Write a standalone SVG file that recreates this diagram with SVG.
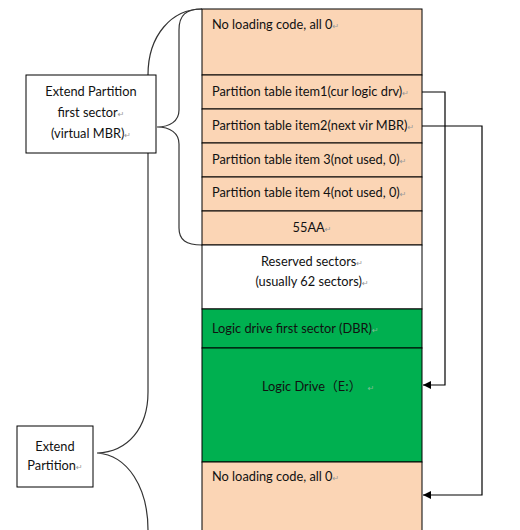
<svg xmlns="http://www.w3.org/2000/svg" width="520" height="530" viewBox="0 0 520 530">
<style>
text{font-family:Lato,"Liberation Sans",sans-serif;font-size:12.8px;fill:#111}
.m{font-family:"DejaVu Sans",sans-serif;font-size:8px;fill:#999}
.mg{font-family:"DejaVu Sans",sans-serif;font-size:8px;fill:#7fbf94}
.peach{fill:#FBD5B5;stroke:#000;stroke-width:1}
.white{fill:#fff;stroke:#000;stroke-width:1}
.green{fill:#00B050;stroke:#000;stroke-width:1}
.brace{fill:none;stroke:#333;stroke-width:1.2}
.conn{fill:none;stroke:#000;stroke-width:1.2}
.box{fill:#fff;stroke:#000;stroke-width:1}
</style>
<defs>
<marker id="ah" viewBox="0 0 10 10" refX="10" refY="5" markerWidth="8" markerHeight="8" markerUnits="userSpaceOnUse" orient="auto"><path d="M0,0 L10,5 L0,10 z" fill="#000"/></marker>
</defs>

<g id="braces">
<path class="brace" d="M202,9 C172,9 148,35 148,75 L148,392 C148,428 128,452 97,453 C128,455 148,488 148,530"/>
<path class="brace" d="M202,9 C186,9 179,15 179,30 L179,110 C179,121 170,127 157,127 C170,127 179,133 179,144 L179,228 C179,240 186,245 202,245"/>
</g>

<g id="col">
<g id="r0"><rect class="peach" x="202" y="9" width="220" height="66"/><text x="212" y="29">No loading code, all 0<tspan class="m">↵</tspan></text></g>
<g id="r1"><rect class="peach" x="202" y="75" width="220" height="34"/><text x="212" y="96">Partition table item1(cur logic drv)<tspan class="m">↵</tspan></text></g>
<g id="r2"><rect class="peach" x="202" y="109" width="220" height="34"/><text x="212" y="130">Partition table item2(next vir MBR)<tspan class="m">↵</tspan></text></g>
<g id="r3"><rect class="peach" x="202" y="143" width="220" height="34"/><text x="212" y="164">Partition table item 3(not used, 0)<tspan class="m">↵</tspan></text></g>
<g id="r4"><rect class="peach" x="202" y="177" width="220" height="34"/><text x="212" y="197">Partition table item 4(not used, 0)<tspan class="m">↵</tspan></text></g>
<g id="r5"><rect class="peach" x="202" y="211" width="220" height="34"/><text x="312" y="232" text-anchor="middle">55AA<tspan class="m">↵</tspan></text></g>
<g id="r6"><rect class="white" x="202" y="245" width="220" height="64"/><text x="312" y="266" text-anchor="middle">Reserved sectors<tspan class="m">↵</tspan></text><text x="312" y="286" text-anchor="middle">(usually 62 sectors)<tspan class="m">↵</tspan></text></g>
<g id="r7"><rect class="green" x="202" y="309" width="220" height="39"/><text x="212" y="333">Logic drive first sector (DBR)<tspan class="mg">↵</tspan></text></g>
<g id="r8"><rect class="green" x="202" y="348" width="220" height="114"/><text x="262" y="391">Logic Drive<tspan font-family="'Noto Sans CJK SC',sans-serif">（E:）</tspan><tspan class="mg" dx="6">↵</tspan></text></g>
<g id="r9"><rect class="peach" x="202" y="462" width="220" height="80"/><text x="212" y="481">No loading code, all 0<tspan class="m">↵</tspan></text></g>
</g>

<g id="connectors">
<path class="conn" d="M422,92 L445,92 L445,385 L423,385" marker-end="url(#ah)"/>
<path class="conn" d="M422,126 L482,126 L482,495 L423,495" marker-end="url(#ah)"/>
</g>

<g id="box1"><rect class="box" x="26" y="75" width="130" height="78"/>
<text x="91" y="96" text-anchor="middle">Extend Partition</text>
<text x="91" y="117" text-anchor="middle">first sector<tspan class="m">↵</tspan></text>
<text x="91" y="138" text-anchor="middle">(virtual MBR)<tspan class="m">↵</tspan></text></g>

<g id="box2"><rect class="box" x="17" y="426" width="76" height="61"/>
<text x="55" y="451" text-anchor="middle">Extend</text>
<text x="55" y="470" text-anchor="middle">Partition<tspan class="m">↵</tspan></text></g>
</svg>
